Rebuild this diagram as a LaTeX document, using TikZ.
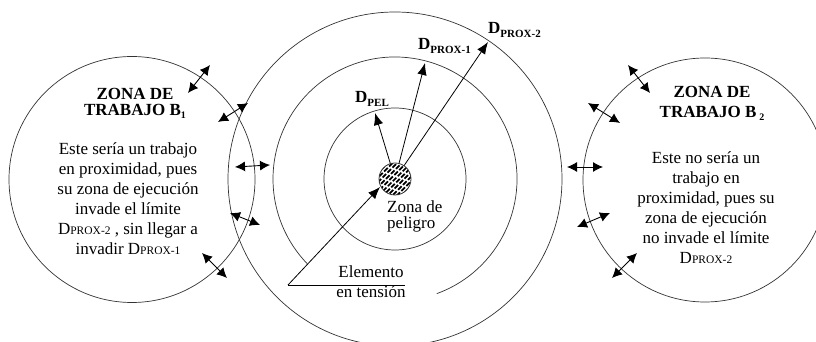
\documentclass[tikz,border=0pt]{standalone}
\usepackage{fontspec}
\setmainfont{Liberation Serif}
\usetikzlibrary{arrows.meta}
\newcommand\Dlab[1]{\textbf{D}\raisebox{-3.5pt}{\fontsize{11}{11}\selectfont\bfseries #1}}
\newcommand\Dtxt[1]{D{\fontsize{11.5}{11}\selectfont #1}}
\begin{document}
\begin{tikzpicture}[x=1pt,y=1pt,
  ring/.style={draw=black!80, line width=0.7pt},
  dbl/.style={{Latex[length=10pt,width=10pt]}-{Latex[length=10pt,width=10pt]}, line width=0.9pt},
  ray/.style={-{Latex[length=12pt,width=9.5pt]}, line width=0.8pt},
  txt/.style={font=\fontsize{17}{20}\selectfont, align=center, inner sep=0pt},
  head/.style={font=\fontsize{17}{16.5}\selectfont\bfseries, align=center, inner sep=0pt},
  lbl/.style={font=\fontsize{17}{20}\selectfont, inner sep=0pt}
]
\useasboundingbox (0,0) rectangle (816,342);

% centres
\coordinate (C) at (395,163);
\coordinate (B1) at (132,162.5);
\coordinate (B2) at (705,162);

% rings
\draw[ring] (B1) circle (123);
\draw[ring] (B2) circle (122);
\draw[ring] (C) circle (71);
\draw[ring] (C) circle (167);
\draw[ring] ([shift={(-70:122)}]C) arc[start angle=-70, end angle=224, radius=122];

% double arrows, left
\coordinate (l1a) at (188,249); \coordinate (l1b) at (210,277);
\coordinate (l2a) at (218,220); \coordinate (l2b) at (248,239);
\coordinate (l3a) at (235,175); \coordinate (l3b) at (270,177);
\coordinate (l4a) at (230,129); \coordinate (l4b) at (260,117);
\coordinate (l5a) at (202,89);  \coordinate (l5b) at (227,64);
\draw[dbl] (l1a) -- (l1b);
\draw[dbl] (l2a) -- (l2b);
\draw[dbl] (l3a) -- (l3b);
\draw[dbl] (l4a) -- (l4b);
\draw[dbl] (l5a) -- (l5b);
% double arrows, right
\coordinate (r1a) at (628,277); \coordinate (r1b) at (650,249);
\coordinate (r2a) at (588,239); \coordinate (r2b) at (620,219);
\coordinate (r3a) at (567,175); \coordinate (r3b) at (603,175);
\coordinate (r4a) at (577,115); \coordinate (r4b) at (610,129);
\coordinate (r5a) at (612,64);  \coordinate (r5b) at (637,89);
\draw[dbl] (r1a) -- (r1b);
\draw[dbl] (r2a) -- (r2b);
\draw[dbl] (r3a) -- (r3b);
\draw[dbl] (r4a) -- (r4b);
\draw[dbl] (r5a) -- (r5b);

% radii
\coordinate (pel) at (375,229);
\coordinate (px1) at (425,279);
\coordinate (px2) at (488,300);
\draw[ray] (C) -- (pel);
\draw[ray] (C) -- (px1);
\draw[ray] (C) -- (px2);

% danger zone
\begin{scope}
  \clip (C) circle (16);
  \fill[white] (C) circle (16);
  \foreach \i in {-6,...,6}
    \draw[line width=1.7pt, dash pattern=on 5pt off 2pt, dash phase=\i*1.7pt]
      ([shift={(\i*4.6-22,-22)}]C) -- ++(44,44);
\end{scope}
\draw[ring, line width=0.8pt] (C) circle (16);

% element en tension
\coordinate (E) at (288,57);
\coordinate (Etip) at (380,155);
\coordinate (Eend) at (405,57);
\draw[ray] (E) -- (Etip);
\draw[line width=0.8pt] (E) -- (Eend);
\node[lbl, anchor=base] (el1) at (371,64) {Elemento};
\node[lbl, anchor=base] (el2) at (371,44) {en tensión};

\node[font=\fontsize{17}{15.5}\selectfont, align=left, inner sep=0pt, anchor=north west] (zp) at (387,141) {Zona de\\peligro};

% labels D
\node[lbl, anchor=base west] (dpel) at (355,239) {\Dlab{PEL}};
\node[lbl, anchor=base west] (dp1) at (418,292) {\Dlab{PROX-1}};
\node[lbl, anchor=base west] (dp2) at (488,308) {\Dlab{PROX-2}};

% left zone text
\node[head, anchor=north] (h1) at (135,254) {ZONA DE\\TRABAJO B\raisebox{-3pt}{\fontsize{10}{10}\selectfont 1}};
\node[txt, anchor=north] (t1) at (128,200) {Este sería un trabajo\\en proximidad, pues\\su zona de ejecución\\invade el límite\\\Dtxt{PROX-2} , sin llegar a\\invadir \Dtxt{PROX-1}};

% right zone text
\node[head, font=\fontsize{17}{20}\selectfont\bfseries, anchor=north] (h2) at (712,256) {ZONA DE\\TRABAJO B\,\raisebox{-3pt}{\fontsize{10}{10}\selectfont 2}};
\node[txt, anchor=north] (t2) at (706,191) {Este no sería un\\trabajo en\\proximidad, pues su\\zona de ejecución\\no invade el límite\\\Dtxt{PROX-2}};
\end{tikzpicture}
\end{document}
